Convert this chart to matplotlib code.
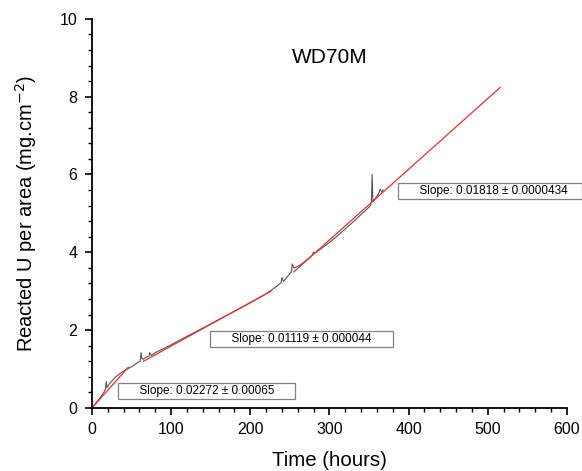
"""
Reacted U per area versus time for sample WD70M, with the three
linear fits drawn over the measured curve.
"""

import numpy as np
from matplotlib import pyplot as plt
from matplotlib.ticker import MultipleLocator

plt.rcParams["font.family"] = ["Liberation Sans", "DejaVu Sans"]

time_hours = [0, 5, 10, 15, 17, 18, 19, 22, 30, 38, 45, 52, 58, 61, 62, 63, 65,
              68, 72, 73, 75, 80, 90, 100, 120, 140, 160, 180, 200, 215, 225,
              235, 239, 240, 242, 248, 252, 253, 255, 258, 262, 270, 278, 280,
              282, 290, 300, 310, 320, 330, 340, 348, 352, 353, 354, 355, 358,
              362, 364, 366, 368]
reacted = [0.0, 0.12, 0.25, 0.4, 0.48, 0.68, 0.52, 0.62, 0.8, 0.92, 1.0, 1.08,
           1.17, 1.2, 1.42, 1.28, 1.25, 1.3, 1.33, 1.42, 1.35, 1.42, 1.52, 1.62,
           1.84, 2.05, 2.27, 2.48, 2.7, 2.87, 3.0, 3.15, 3.22, 3.35, 3.25, 3.4,
           3.5, 3.7, 3.6, 3.62, 3.66, 3.78, 3.92, 4.0, 3.98, 4.1, 4.25, 4.42,
           4.6, 4.78, 4.97, 5.12, 5.2, 5.3, 6.0, 5.3, 5.38, 5.5, 5.62, 5.55, 5.6]

# linear fits: hour range, intercept, slope and the label that goes with it
fit_ranges = [(0, 46), (65, 226), (255, 516)]
fit_intercepts = [0.0, 0.47, -1.14]
fit_slopes = [0.02272, 0.01119, 0.01818]
fit_labels = ["Slope: 0.02272 \u00b1 0.00065",
              "Slope: 0.01119 \u00b1 0.000044",
              "Slope: 0.01818 \u00b1 0.0000434"]
label_positions = [(145, 0.44), (265, 1.77), (389, 5.58)]
label_align = ["center", "center", "left"]
trailing_spaces = [6, 6, 4]

fig = plt.figure(figsize=(5.82, 4.71), dpi=100)
ax = fig.add_axes([0.158, 0.134, 0.816, 0.826])

ax.plot(time_hours, reacted, color="#555555", lw=0.8)
for (start, end), b, m in zip(fit_ranges, fit_intercepts, fit_slopes):
    xs = np.array([start, end])
    ax.plot(xs, b + m * xs, color="#e8302a", lw=0.9)

for (x, y), text, ha, n in zip(label_positions, fit_labels, label_align,
                               trailing_spaces):
    ax.text(x, y, " " * 6 + text + " " * n, fontsize=8.5, ha=ha, va="center",
            bbox=dict(boxstyle="square,pad=0.15", fc="white", ec="#808080",
                      lw=0.9))

ax.text(300, 9.01, "WD70M", fontsize=15, ha="center", va="center")

ax.set_xlim(0, 600)
ax.set_ylim(0, 10)
ax.xaxis.set_major_locator(MultipleLocator(100))
ax.xaxis.set_minor_locator(MultipleLocator(20))
ax.yaxis.set_major_locator(MultipleLocator(2))
ax.yaxis.set_minor_locator(MultipleLocator(0.4))
ax.tick_params(which="major", direction="out", length=5, width=1.2,
               labelsize=11.5, pad=5.5)
ax.tick_params(which="minor", direction="out", length=3, width=1.0)
for side in ("top", "right"):
    ax.spines[side].set_visible(False)
for side in ("left", "bottom"):
    ax.spines[side].set_linewidth(1.3)

ax.set_xlabel("Time (hours)", fontsize=14.7, labelpad=10)
ax.set_ylabel("Reacted U per area (mg.cm$^{-2}$)", fontsize=14.5, labelpad=15)

fig.savefig("out.png", dpi=100)
